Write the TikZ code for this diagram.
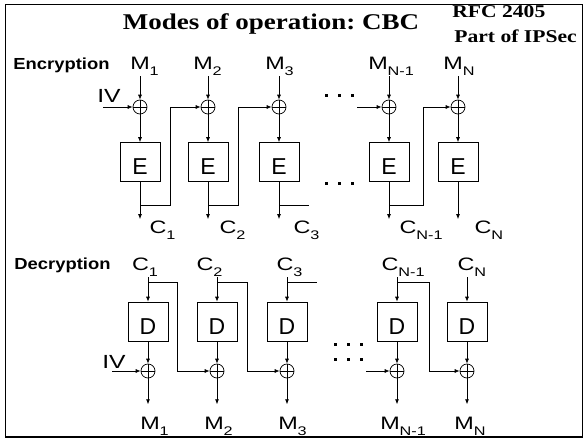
\documentclass[tikz,border=0pt]{standalone}
\usepackage{fontspec}
\usetikzlibrary{arrows.meta}
\newfontfamily\lblfont[FakeStretch=1.3]{Liberation Sans}
\newfontfamily\rowfont[FakeStretch=1.15]{Liberation Sans}
\newfontfamily\hdrfont[FakeStretch=1.2]{Liberation Serif}
\newfontfamily\blkfont{Liberation Sans}
\newcommand\lsub[1]{\raisebox{-6pt}{\fontsize{12.5}{12.5}\selectfont #1}}
\frenchspacing

\begin{document}
\begin{tikzpicture}[x=1pt,y=-1pt,line width=0.7pt,
  lbl/.style={font=\lblfont\fontsize{18}{18}\selectfont, inner sep=1pt, anchor=base},
  ivlbl/.style={lbl, font=\lblfont\fontsize{19}{19}\selectfont},
  hdr/.style={font=\rowfont\bfseries\fontsize{16}{16}\selectfont, inner sep=0pt, anchor=base},
  blk/.style={draw, minimum width=40pt, minimum height=39pt, inner sep=0pt,
    text height=25.5pt, text depth=0pt, font=\blkfont\fontsize{23}{23}\selectfont},
  xorc/.style={circle, draw, minimum size=14pt, inner sep=0pt,
    path picture={\draw (path picture bounding box.north) -- (path picture bounding box.south)
      (path picture bounding box.west) -- (path picture bounding box.east);}},
  arr/.style={-{Latex[length=5pt,width=4pt]}}]

  \useasboundingbox (0,0) rectangle (584,439);
  \draw[line width=1.5pt] (5.5,4.5) rectangle (582.5,437);

  % title
  \node[font=\hdrfont\bfseries\fontsize{22.5}{22.5}\selectfont, anchor=base] (ttl) at (271,30) {Modes of operation: CBC};
  \node[font=\hdrfont\bfseries\fontsize{18}{18}\selectfont, anchor=base west, inner sep=0pt] (rfc) at (452,17) {RFC 2405};
  \node[font=\hdrfont\bfseries\fontsize{18}{18}\selectfont, anchor=base west, inner sep=0pt] (ips) at (454,42) {Part of IPSec};

  % Encryption
  \node[hdr] (enc) at (61.5,69) {Encryption};
  \node[lbl] (em1) at (140,69) {M\rlap{\lsub{1}}};
  \node[lbl] (em2) at (203,69) {M\rlap{\lsub{2}}};
  \node[lbl] (em3) at (275,69) {M\rlap{\lsub{3}}};
  \node[lbl] (em4) at (378,69) {M\rlap{\lsub{N-1}}};
  \node[lbl] (em5) at (453,69) {M\rlap{\lsub{N}}};

  \node[xorc] (ex1) at (140,107) {};
  \node[xorc] (ex2) at (208,107) {};
  \node[xorc] (ex3) at (279,107) {};
  \node[xorc] (ex4) at (389,107) {};
  \node[xorc] (ex5) at (458,107) {};

  \node[blk] (ee1) at (140,162) {E};
  \node[blk] (ee2) at (208,162) {E};
  \node[blk] (ee3) at (279,162) {E};
  \node[blk] (ee4) at (389,162) {E};
  \node[blk] (ee5) at (458,162) {E};

  \node[lbl] (ec1) at (158,233) {C\rlap{\lsub{1}}};
  \node[lbl] (ec2) at (228,233) {C\rlap{\lsub{2}}};
  \node[lbl] (ec3) at (302,233) {C\rlap{\lsub{3}}};
  \node[lbl] (ec4) at (408,233) {C\rlap{\lsub{N-1}}};
  \node[lbl] (ec5) at (483,233) {C\rlap{\lsub{N}}};

  \node[ivlbl] (eiv) at (109,102) {IV};
  \coordinate (eivs) at (103,107);
  \coordinate (ein) at (357,107);
  \coordinate (ej1) at (170,205);
  \coordinate (ej2) at (238,205);
  \coordinate (ej3) at (309,205);
  \coordinate (ej4) at (423,205);

  \draw[arr] (em1.south -| ex1) -- (ex1);
  \draw[arr] (em2.south -| ex2) -- (ex2);
  \draw[arr] (em3.south -| ex3) -- (ex3);
  \draw[arr] (em4.south -| ex4) -- (ex4);
  \draw[arr] (em5.south -| ex5) -- (ex5);
  \draw[arr] (ex1) -- (ee1);
  \draw[arr] (ex2) -- (ee2);
  \draw[arr] (ex3) -- (ee3);
  \draw[arr] (ex4) -- (ee4);
  \draw[arr] (ex5) -- (ee5);
  \draw[arr] (ee1) -- (ee1 |- ec1.north);
  \draw[arr] (ee2) -- (ee2 |- ec2.north);
  \draw[arr] (ee3) -- (ee3 |- ec3.north);
  \draw[arr] (ee4) -- (ee4 |- ec4.north);
  \draw[arr] (ee5) -- (ee5 |- ec5.north);
  \draw[arr] (ee1 |- ej1) -- (ej1) |- (ex2);
  \draw[arr] (ee2 |- ej2) -- (ej2) |- (ex3);
  \draw (ee3 |- ej3) -- (ej3);
  \draw[arr] (ee4 |- ej4) -- (ej4) |- (ex5);
  \draw[arr] (eivs) -- (ex1);
  \draw[arr] (ein) -- (ex4);

  % dots
  \foreach \x in {326,339,352}
    \foreach \y in {95,183}
      \fill (\x-1.5,\y-1.5) rectangle ++(3,3);

  % Decryption
  \node[hdr] (dec) at (62.5,269) {Decryption};
  \node[lbl] (dc1) at (140.5,270) {C\rlap{\lsub{1}}};
  \node[lbl] (dc2) at (205,270) {C\rlap{\lsub{2}}};
  \node[lbl] (dc3) at (285,270) {C\rlap{\lsub{3}}};
  \node[lbl] (dc4) at (390,270) {C\rlap{\lsub{N-1}}};
  \node[lbl] (dc5) at (466,270) {C\rlap{\lsub{N}}};

  \node[blk] (dd1) at (148,321.5) {D};
  \node[blk] (dd2) at (217,321.5) {D};
  \node[blk] (dd3) at (287,321.5) {D};
  \node[blk] (dd4) at (397,321.5) {D};
  \node[blk] (dd5) at (467,321.5) {D};

  \node[xorc] (dx1) at (148,371) {};
  \node[xorc] (dx2) at (217,371) {};
  \node[xorc] (dx3) at (287,371) {};
  \node[xorc] (dx4) at (397,371) {};
  \node[xorc] (dx5) at (467,371) {};

  \node[lbl] (dm1) at (150,429) {M\rlap{\lsub{1}}};
  \node[lbl] (dm2) at (214,429) {M\rlap{\lsub{2}}};
  \node[lbl] (dm3) at (288,429) {M\rlap{\lsub{3}}};
  \node[lbl] (dm4) at (390,429) {M\rlap{\lsub{N-1}}};
  \node[lbl] (dm5) at (464,429) {M\rlap{\lsub{N}}};

  \node[ivlbl] (div) at (114,368) {IV};
  \coordinate (divs) at (112,371);
  \coordinate (din) at (366,371);
  \coordinate (dj1) at (177,282);
  \coordinate (dj2) at (247,282);
  \coordinate (dj3) at (317,282);
  \coordinate (dj4) at (429,282);

  \draw[arr] (dc1.south -| dd1) -- (dd1);
  \draw[arr] (dc2.south -| dd2) -- (dd2);
  \draw[arr] (dc3.south -| dd3) -- (dd3);
  \draw[arr] (dc4.south -| dd4) -- (dd4);
  \draw[arr] (dc5.south -| dd5) -- (dd5);
  \draw[arr] (dd1) -- (dx1);
  \draw[arr] (dd2) -- (dx2);
  \draw[arr] (dd3) -- (dx3);
  \draw[arr] (dd4) -- (dx4);
  \draw[arr] (dd5) -- (dx5);
  \draw[arr] (dx1) -- ([yshift=11pt]dm1.north -| dx1);
  \draw[arr] (dx2) -- ([yshift=11pt]dm2.north -| dx2);
  \draw[arr] (dx3) -- ([yshift=11pt]dm3.north -| dx3);
  \draw[arr] (dx4) -- ([yshift=11pt]dm4.north -| dx4);
  \draw[arr] (dx5) -- ([yshift=11pt]dm5.north -| dx5);
  \draw[arr] (dj1 -| dd1) -- (dj1) |- (dx2);
  \draw[arr] (dj2 -| dd2) -- (dj2) |- (dx3);
  \draw (dj3 -| dd3) -- (dj3);
  \draw[arr] (dj4 -| dd4) -- (dj4) |- (dx5);
  \draw[arr] (divs) -- (dx1);
  \draw[arr] (din) -- (dx4);

  % dots
  \foreach \x in {335,348,361}
    \foreach \y in {344,359}
      \fill (\x-1.5,\y-1.5) rectangle ++(3,3);

\end{tikzpicture}
\end{document}
